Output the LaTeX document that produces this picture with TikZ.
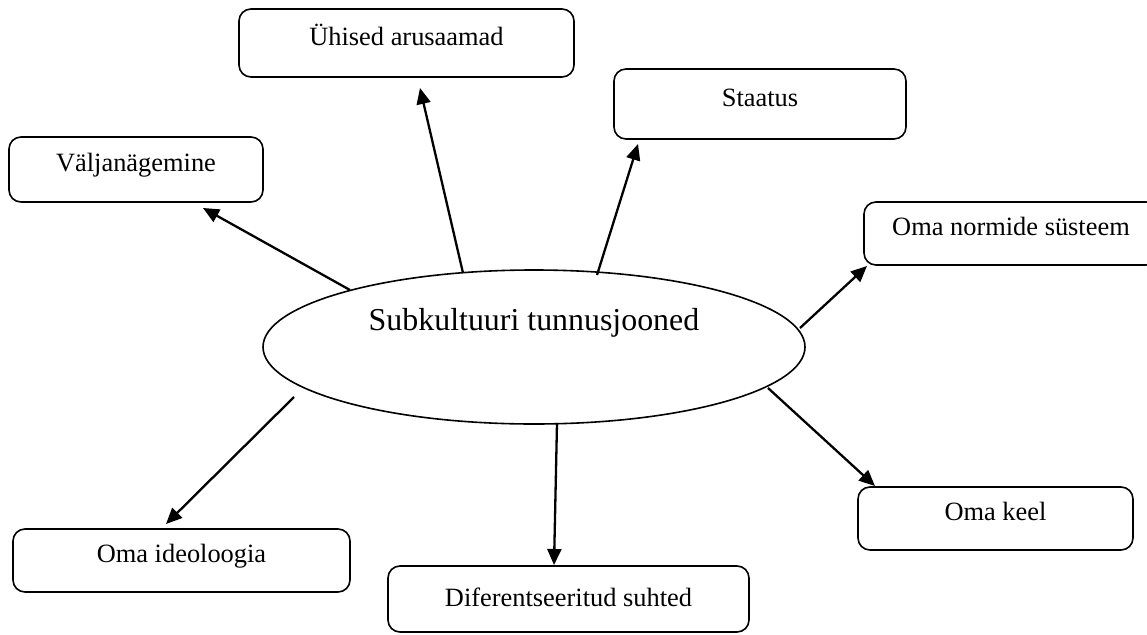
\documentclass[tikz,border=0pt]{standalone}
\usepackage{fontspec}
\setmainfont{Liberation Serif}
\usetikzlibrary{shapes.geometric,arrows.meta}
\begin{document}
\begin{tikzpicture}[x=1pt,y=-1pt,
  boxstyle/.style={draw=black, line width=1.6pt, rounded corners=12pt, inner sep=0pt,
    font=\fontsize{26.4}{30}\selectfont, text height=0.7em, text depth=0.22em},
  conn/.style={line width=2.3pt, -{Triangle[length=16pt,width=14pt]}},
]
\useasboundingbox (0,0) rectangle (1147,634);
\clip (0,0) rectangle (1147,634);
\fill[white] (0,0) rectangle (1147,634);

% central ellipse
\node[ellipse, draw=black, line width=1.6pt, minimum width=542pt, minimum height=154pt, inner sep=0pt] (el) at (534,347) {};
\node[anchor=base, inner sep=0pt, font=\fontsize{31.9}{36}\selectfont] (eltext) at (534,330) {Subkultuuri tunnusjooned};

% boxes
\node[boxstyle, minimum width=254pt, minimum height=65pt] (val) at (136,169.5) {Väljanägemine};
\node[boxstyle, minimum width=335pt, minimum height=68pt] (uhi) at (406.5,43) {Ühised arusaamad};
\node[boxstyle, minimum width=292pt, minimum height=70pt] (sta) at (760,104) {Staatus};
\node[boxstyle, minimum width=294pt, minimum height=63pt] (nor) at (1011,233.5) {Oma normide süsteem};
\node[boxstyle, minimum width=275pt, minimum height=63pt] (kee) at (995.5,518.5) {Oma keel};
\node[boxstyle, minimum width=337pt, minimum height=63pt] (ide) at (181.5,560.5) {Oma ideoloogia};
\node[boxstyle, minimum width=361pt, minimum height=66pt, text height=0.7em+10pt] (dif) at (568.5,599) {Diferentseeritud suhted};

% connector end points
\coordinate (s1) at (350,290);  \coordinate (t1) at (203,208);
\coordinate (s2) at (463,273);  \coordinate (t2) at (420,88);
\coordinate (s3) at (597,275);  \coordinate (t3) at (638,144);
\coordinate (s4) at (800,328);  \coordinate (t4) at (867,266);
\coordinate (s5) at (768,388);  \coordinate (t5) at (875,486);
\coordinate (s6) at (557,423);  \coordinate (t6) at (554,565);
\coordinate (s7) at (294,397);  \coordinate (t7) at (166,524);

\draw[conn] (s1) -- (t1);
\draw[conn] (s2) -- (t2);
\draw[conn] (s3) -- (t3);
\draw[conn] (s4) -- (t4);
\draw[conn] (s5) -- (t5);
\draw[conn] (s6) -- (t6);
\draw[conn] (s7) -- (t7);
\end{tikzpicture}
\end{document}
